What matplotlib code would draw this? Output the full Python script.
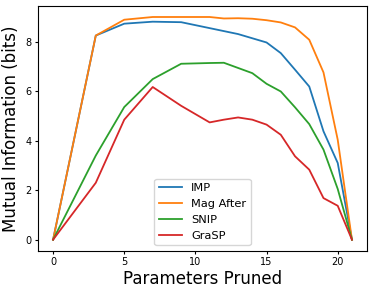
import matplotlib
matplotlib.use('Agg')
import matplotlib.pyplot as plt

# parameters pruned (x) shared by all curves
pruned = [0, 3, 5, 7, 9, 11, 12, 13, 14, 15, 16, 17, 18, 19, 20, 21]

imp = [0, 8.25, 8.73, 8.81, 8.79, 8.55, 8.43, 8.31, 8.14, 7.97, 7.54, 6.87, 6.19, 4.38, 3.1, 0]
mag_after = [0, 8.25, 8.89, 9.0, 9.0, 9.0, 8.94, 8.95, 8.93, 8.87, 8.78, 8.58, 8.08, 6.76, 4.04, 0]
snip = [0, 3.4, 5.36, 6.49, 7.11, 7.14, 7.15, 6.94, 6.73, 6.30, 5.99, 5.35, 4.67, 3.64, 2.05, 0]
grasp = [0, 2.3, 4.85, 6.17, 5.41, 4.74, 4.85, 4.94, 4.85, 4.65, 4.24, 3.37, 2.83, 1.68, 1.37, 0]

fig = plt.figure(figsize=(3.74, 2.93), dpi=100)
ax = fig.add_axes([0.102, 0.144, 0.879, 0.836])

ax.plot(pruned, imp, label='IMP', linewidth=1.3)
ax.plot(pruned, mag_after, label='Mag After', linewidth=1.3)
ax.plot(pruned, snip, label='SNIP', linewidth=1.3)
ax.plot(pruned, grasp, label='GraSP', linewidth=1.3)

ax.set_xlabel('Parameters Pruned', fontsize=12, labelpad=2)
ax.set_ylabel('Mutual Information (bits)', fontsize=12, labelpad=4)
ax.tick_params(labelsize=7, length=2.5, pad=2)
ax.legend(loc='lower center', fontsize=8.2)

fig.savefig('out.png', dpi=100)
